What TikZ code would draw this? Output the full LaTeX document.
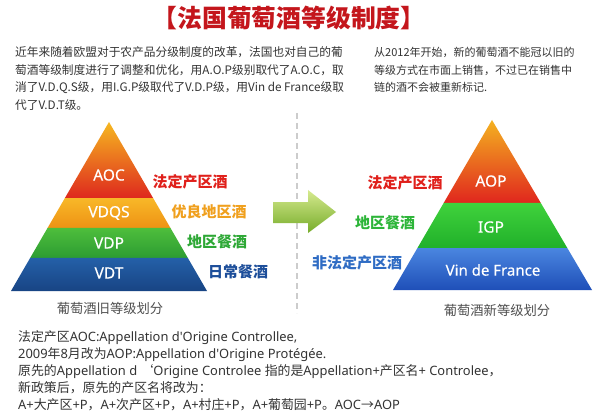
\documentclass[tikz,border=0pt]{standalone}
\usepackage{fontspec}
\setmainfont{Noto Sans CJK SC}
\newfontfamily\latinsans{Noto Sans}
\newfontfamily\tierfont[FakeBold=0.35]{Noto Sans}
\newcommand\latr[1]{{\latinsans #1}}
\usetikzlibrary{calc}
\definecolor{titlered}{HTML}{C4161C}
\definecolor{txt}{HTML}{333333}
\definecolor{capgray}{HTML}{505050}
\definecolor{lblred}{HTML}{E0201B}
\definecolor{lblorange}{HTML}{F0A01E}
\definecolor{lblgreen}{HTML}{2EA836}
\definecolor{lblblue}{HTML}{1D4E9A}
\definecolor{lblbluetwo}{HTML}{2F6CC4}
\definecolor{lblgreentwo}{HTML}{2DB539}
\tikzset{
  para/.style={anchor=base west, inner sep=0pt, text=txt, font=\fontsize{11.7}{14}\selectfont},
  parar/.style={anchor=base west, inner sep=0pt, text=txt, font=\fontsize{11}{14}\selectfont},
  parab/.style={anchor=base west, inner sep=0pt, text=txt, font=\fontsize{12.9}{15}\selectfont},
  tier/.style={inner sep=0pt, text=white, font=\tierfont\fontsize{15.5}{18}\selectfont},
  grade/.style={inner sep=0pt, font=\bfseries\fontsize{15}{18}\selectfont},
  caption/.style={inner sep=0pt, text=capgray, font=\fontsize{13.3}{16}\selectfont},
}
\begin{document}
\begin{tikzpicture}[x=1pt,y=-1pt]
\fill[white] (0,0) rectangle (600,417);
\useasboundingbox (0,0) rectangle (600,417);

% title
\node[inner sep=0pt, text=titlered, font=\bfseries\fontsize{24.8}{28}\selectfont] (title) at (289,18) {【法国葡萄酒等级制度】};

% left paragraph
\node[para] (p1) at (15,56.5) {近年来随着欧盟对于农产品分级制度的改革，法国也对自己的葡};
\node[para] (p2) at (15,74.5) {萄酒等级制度进行了调整和优化，用A.O.P级别取代了A.O.C，取};
\node[para] (p3) at (15,92) {消了V.D.Q.S级，用I.G.P级取代了V.D.P级，用Vin de France级取};
\node[para] (p4) at (15,110) {代了V.D.T级。};

% right paragraph
\node[parar] (q1) at (374,57) {从2012年开始，新的葡萄酒不能冠以旧的};
\node[parar] (q2) at (374,75) {等级方式在市面上销售，不过已在销售中};
\node[parar] (q3) at (374,92) {链的酒不会被重新标记.};

% divider
\draw[black!20, line width=1.2pt, dash pattern=on 6pt off 4pt] (297,113) -- (297,313);

% left pyramid
\coordinate (LA) at (109,122);
\coordinate (LBL) at (11,291);
\coordinate (LBR) at (207,291);
\shade[top color={rgb,255:red,246;green,184;blue,32}, bottom color={rgb,255:red,222;green,40;blue,30}]
  (LA) -- ($(LA)!0.4497!(LBR)$) -- ($(LA)!0.4497!(LBL)$) -- cycle;
\shade[top color={rgb,255:red,248;green,184;blue,40}, bottom color={rgb,255:red,238;green,146;blue,20}]
  ($(LA)!0.4497!(LBL)$) -- ($(LA)!0.4497!(LBR)$) -- ($(LA)!0.6272!(LBR)$) -- ($(LA)!0.6272!(LBL)$) -- cycle;
\shade[top color={rgb,255:red,78;green,190;blue,60}, bottom color={rgb,255:red,44;green,156;blue,50}]
  ($(LA)!0.6272!(LBL)$) -- ($(LA)!0.6272!(LBR)$) -- ($(LA)!0.8047!(LBR)$) -- ($(LA)!0.8047!(LBL)$) -- cycle;
\shade[top color={rgb,255:red,36;green,96;blue,168}, bottom color={rgb,255:red,24;green,68;blue,132}]
  ($(LA)!0.8047!(LBL)$) -- ($(LA)!0.8047!(LBR)$) -- (LBR) -- (LBL) -- cycle;

\node[tier] (aoc) at (109,175) {AOC};
\node[tier] (vdqs) at (109,213) {VDQS};
\node[tier] (vdp) at (109,243) {VDP};
\node[tier] (vdt) at (109,273) {VDT};

\node[grade, text=lblred] (g1) at (190,182) {法定产区酒};
\node[grade, text=lblorange] (g2) at (209,212) {优良地区酒};
\node[grade, text=lblgreen] (g3) at (217,242) {地区餐酒};
\node[grade, text=lblblue] (g4) at (238,272) {日常餐酒};

\node[caption] (oldcap) at (110,308) {葡萄酒旧等级划分};

% arrow
\shade[top color={rgb,255:red,214;green,234;blue,143}, bottom color={rgb,255:red,118;green,172;blue,42}]
  (273,202) -- (308,202) -- (308,190) -- (336,212) -- (308,233) -- (308,223) -- (273,223) -- cycle;

% right pyramid
\coordinate (RA) at (492,120);
\coordinate (RBL) at (393,290);
\coordinate (RBR) at (592,290);
\shade[top color={rgb,255:red,244;green,178;blue,32}, bottom color={rgb,255:red,224;green,38;blue,30}]
  (RA) -- ($(RA)!0.488!(RBR)$) -- ($(RA)!0.488!(RBL)$) -- cycle;
\shade[top color={rgb,255:red,64;green,210;blue,60}, bottom color={rgb,255:red,32;green,176;blue,42}]
  ($(RA)!0.488!(RBL)$) -- ($(RA)!0.488!(RBR)$) -- ($(RA)!0.753!(RBR)$) -- ($(RA)!0.753!(RBL)$) -- cycle;
\shade[top color={rgb,255:red,74;green,134;blue,224}, bottom color={rgb,255:red,31;green,79;blue,184}]
  ($(RA)!0.753!(RBL)$) -- ($(RA)!0.753!(RBR)$) -- (RBR) -- (RBL) -- cycle;

\node[tier] (aop) at (491,181) {AOP};
\node[tier] (igp) at (491,227) {IGP};
\node[tier, font=\tierfont\fontsize{15}{18}\selectfont] (vdf) at (493,270) {Vin de France};

\node[grade, text=lblred] (h1) at (405,183) {法定产区酒};
\node[grade, text=lblgreentwo] (h2) at (385,223) {地区餐酒};
\node[grade, text=lblbluetwo] (h3) at (357,263) {非法定产区酒};

\node[caption] (newcap) at (497,310) {葡萄酒新等级划分};

% bottom notes
\node[parab] (n1) at (18,341.8) {法定产区\latr{AOC:Appellation d'Origine Controllee,}};
\node[parab] (n2) at (18,358.8) {\latr{2009}年\latr{8}月改为\latr{AOP:Appellation d'Origine Protégée.}};
\node[parab] (n3) at (18,375.8) {原先的\latr{Appellation d }‘\latr{Origine Controlee }指的是\latr{Appellation+}产区名\latr{+ Controlee}，};
\node[parab] (n4) at (18,392.8) {新政策后，原先的产区名将改为：};
\node[parab] (n5) at (18,409.6) {\latr{A+}大产区\latr{+P}，\latr{A+}次产区\latr{+P}，\latr{A+}村庄\latr{+P}，\latr{A+}葡萄园\latr{+P}。\latr{AOC}→\latr{AOP}};
\end{tikzpicture}
\end{document}
